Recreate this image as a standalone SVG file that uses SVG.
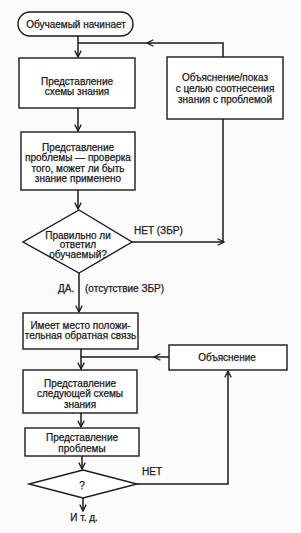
<svg xmlns="http://www.w3.org/2000/svg" width="301" height="533" viewBox="0 0 301 533">
<defs>
<marker id="arr" viewBox="0 0 10 10" refX="9" refY="5" markerWidth="8" markerHeight="8" markerUnits="userSpaceOnUse" orient="auto">
<path d="M1,1 L9,5 L1,9" fill="none" stroke="#1a1a1a" stroke-width="1.6"/>
</marker>
</defs>
<style>
.bx{fill:#fff;stroke:#1a1a1a;stroke-width:1.4}
.ln{fill:none;stroke:#1a1a1a;stroke-width:1.5}
text{font-family:"Liberation Sans",Arial,sans-serif;font-size:10px;fill:#1a1a1a;stroke:#1a1a1a;stroke-width:0.25;text-anchor:middle}
.l{text-anchor:start}
</style>
<rect width="301" height="533" fill="#fbfbfb"/>
<g id="connectors">
<path class="ln" d="M78,36 V57" marker-end="url(#arr)"/>
<path class="ln" d="M223,57 V43 H147" marker-end="url(#arr)"/>
<path class="ln" d="M147,43 H78"/>
<path class="ln" d="M78,108 V131" marker-end="url(#arr)"/>
<path class="ln" d="M78,190 V209" marker-end="url(#arr)"/>
<path class="ln" d="M132,242 H224" marker-end="url(#arr)"/>
<path class="ln" d="M223,242 V119"/>
<path class="ln" d="M79,273 V312" marker-end="url(#arr)"/>
<path class="ln" d="M81,349 V369" marker-end="url(#arr)"/>
<path class="ln" d="M169,357 H154" marker-end="url(#arr)"/>
<path class="ln" d="M154,357 H81"/>
<path class="ln" d="M81,413 V427" marker-end="url(#arr)"/>
<path class="ln" d="M82,456 V469" marker-end="url(#arr)"/>
<path class="ln" d="M137,484 H228 V371" marker-end="url(#arr)"/>
<path class="ln" d="M83,498 V511" marker-end="url(#arr)"/>
</g>
<g id="start">
<rect class="bx" x="18" y="12" width="115" height="24" rx="12"/>
<text x="76" y="27.5">Обучаемый начинает</text>
</g>
<g id="scheme">
<rect class="bx" x="19" y="58" width="116" height="50"/>
<text x="77" y="84.5">Представление</text>
<text x="77" y="95">схемы знания</text>
</g>
<g id="explain-show">
<rect class="bx" x="167" y="57" width="116" height="62"/>
<text x="225" y="80.5">Объяснение/показ</text>
<text x="225" y="91.5">с целью соотнесения</text>
<text x="225" y="103">знания с проблемой</text>
</g>
<g id="problem-check">
<rect class="bx" x="21" y="132" width="114" height="58"/>
<text x="78" y="150.5">Представление</text>
<text x="78" y="161">проблемы — проверка</text>
<text x="78" y="171.5">того, может ли быть</text>
<text x="78" y="182">знание применено</text>
</g>
<g id="decision1">
<polygon class="bx" points="79,210 132,242 79,273 23,242"/>
<text x="78" y="238.5">Правильно ли</text>
<text x="78" y="248">ответил</text>
<text x="78" y="257.5">обучаемый?</text>
</g>
<g id="labels">
<text class="l" x="134" y="233.5">НЕТ (ЗБР)</text>
<text class="l" x="58" y="291.5">ДА.</text>
<text class="l" x="85" y="291.5">(отсутствие ЗБР)</text>
<text class="l" x="142" y="474.5">НЕТ</text>
</g>
<g id="feedback">
<rect class="bx" x="23" y="313" width="115" height="36"/>
<text x="80.5" y="328.5">Имеет место положи-</text>
<text x="80.5" y="339">тельная обратная связь</text>
</g>
<g id="explain">
<rect class="bx" x="169" y="345" width="118" height="25"/>
<text x="227" y="360.5">Объяснение</text>
</g>
<g id="next-scheme">
<rect class="bx" x="23" y="370" width="114" height="43"/>
<text x="80" y="386.5">Представление</text>
<text x="80" y="397">следующей схемы</text>
<text x="80" y="407.5">знания</text>
</g>
<g id="problem">
<rect class="bx" x="25" y="428" width="114" height="28"/>
<text x="82" y="440.5">Представление</text>
<text x="82" y="451.5">проблемы</text>
</g>
<g id="decision2">
<polygon class="bx" points="83,470 137,484 83,498 29,484"/>
<text x="82" y="488.5">?</text>
</g>
<g id="end">
<text x="84" y="520.5">И т. д.</text>
</g>
</svg>
